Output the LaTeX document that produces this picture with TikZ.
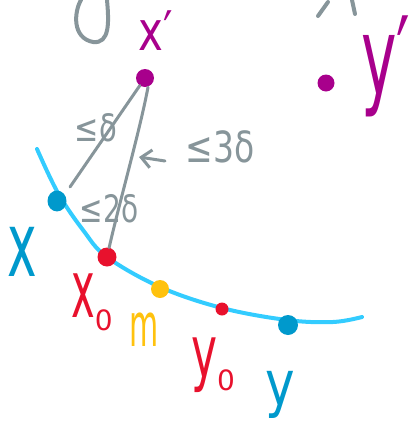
\documentclass[tikz,border=0pt]{standalone}
\usepackage{fontspec}
\usepackage{graphicx}
\setmainfont{DejaVu Sans}
\usetikzlibrary{arrows.meta}
\definecolor{pen}{HTML}{87959A}
\definecolor{mag}{HTML}{A8008C}
\definecolor{curveblue}{HTML}{33CCFF}
\definecolor{dotblue}{HTML}{0099CC}
\definecolor{penred}{HTML}{E8112D}
\definecolor{penyellow}{HTML}{FFC20E}
\newcommand\tallglyph[2]{\scalebox{1}[#1]{#2}}
\begin{document}
\begin{tikzpicture}[x=1pt,y=-1pt,
  dot/.style={circle,inner sep=0pt,minimum size=#1},
  stroke/.style={line width=4pt,line cap=round,line join=round},
  lbl/.style={inner sep=0pt,font=\fontsize{#1}{#1}\selectfont},
  grayline/.style={draw=pen,line width=3pt,line cap=round}]
\useasboundingbox (0,0) rectangle (414,421);
% cropped gray strokes at the top
\draw[grayline,line width=4pt] (81,0) .. controls (74,12) and (72,38) .. (93,42) .. controls (110,44) and (109,22) .. (107,0);
\draw[grayline,line width=4pt] (318,16) -- (328,2);
\draw[grayline,line width=4pt] (352,0) -- (355,14);
% curve
\draw[curveblue,stroke] plot[smooth,tension=0.6] coordinates {(37,149) (58,193) (83,230) (107,257) (160,287) (222,308) (287,320) (333,322) (362,317)};
% dots
\node[dot=18pt,fill=mag] (xp) at (145,78) {};
\node[dot=17pt,fill=mag] (yp) at (326,83) {};
\node[dot=19pt,fill=dotblue,yscale=1.1] (x) at (57,201) {};
\node[dot=19pt,fill=penred] (x0) at (107,257) {};
\node[dot=18pt,fill=penyellow] (m) at (160,289) {};
\node[dot=13pt,fill=penred] (y0) at (222,309) {};
\node[dot=20pt,fill=dotblue] (y) at (288,325) {};
% connectors
\coordinate (c1) at (70,187);
\draw[grayline] (xp) -- (c1);
\draw[grayline] ([xshift=3pt]xp.south) .. controls (140,130) and (120,200) .. (x0);
% labels
\node[lbl=42,text=mag] (lxp) at (156,31) {\tallglyph{1.3}{x′}};
\node[lbl=60,text=mag] (lyp) at (386,66) {\tallglyph{1.8}{y′}};
\node[lbl=29,text=pen] (ld) at (96,128) {\tallglyph{1.3}{≤δ}};
\coordinate (at) at (165,161);
\coordinate (ah) at (139,157);
\draw[grayline,-{Straight Barb[length=10pt,width=18pt]}] (at) -- (ah);
\node[lbl=33,text=pen] (l3d) at (220,147) {\tallglyph{1.3}{≤3δ}};
\node[lbl=28,text=pen] (l2d) at (109,209) {\tallglyph{1.35}{≤2δ}};
\node[lbl=50,text=dotblue] (lx) at (22,252) {\tallglyph{1.8}{x}};
\node[lbl=40,text=penred,anchor=base west] (lx0) at (71,317) {\tallglyph{2}{x}\raisebox{-13pt}{\fontsize{28}{28}\selectfont 0}};
\node[lbl=30,text=penyellow] (lm) at (144,330) {\tallglyph{2}{m}};
\node[lbl=44,text=penred,anchor=base west] (ly0) at (191,377) {\tallglyph{1.65}{y}\raisebox{-13pt}{\fontsize{28}{28}\selectfont 0}};
\node[lbl=50,text=dotblue] (ly) at (280,395) {\tallglyph{1.25}{y}};
\end{tikzpicture}
\end{document}
